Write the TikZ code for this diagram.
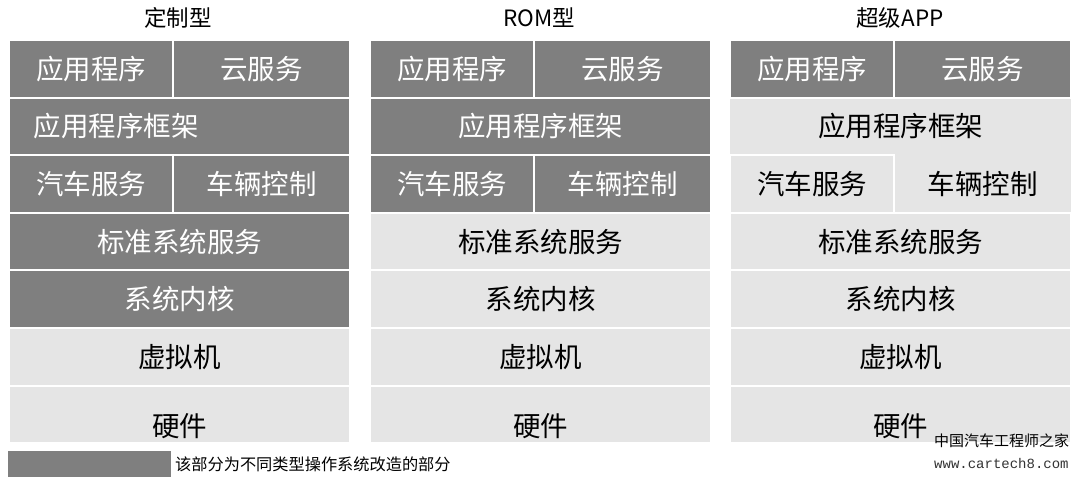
\documentclass[tikz,border=0pt]{standalone}
\usepackage{fontspec}
\setmainfont{Noto Sans CJK SC}
\newfontfamily\wmmono{Liberation Mono}
\usepackage{tikz}
\definecolor{layerdark}{HTML}{7F7F7F}
\definecolor{layerlight}{HTML}{E5E5E5}
\tikzset{
  cell/.style={anchor=north west,minimum height=57.6pt,inner sep=0pt,draw=white,line width=2pt,font=\fontsize{27.5}{30}\selectfont},
  dark/.style={cell,fill=layerdark,text=white},
  light/.style={cell,fill=layerlight,text=black},
  bare/.style={draw=none},
  wide/.style={minimum width=341pt},
  lhalf/.style={minimum width=164pt},
  rhalf/.style={minimum width=177pt},
  title/.style={font=\fontsize{22.5}{25}\selectfont},
}
\begin{document}
\begin{tikzpicture}[x=1pt,y=-1pt]
    \useasboundingbox[fill=white] (0,0) rectangle (1080,478);
    % titles
    \node[title](T1) at (178,18) {定制型};
    \node[title](T2) at (539,18) {ROM型};
    \node[title](T3) at (900,18) {超级APP};
    % customised
    \node[dark,lhalf](c1app) at (8,39) {应用程序};
    \node[dark,rhalf](c1cloud) at (172,39) {云服务};
    \node[dark,wide,align=left,text width=291pt,inner xsep=25pt](c1fw) at (8,96.6) {应用程序框架};
    \node[dark,lhalf](c1car) at (8,154.2) {汽车服务};
    \node[dark,rhalf](c1ctl) at (172,154.2) {车辆控制};
    \node[dark,wide](c1std) at (8,211.8) {标准系统服务};
    \node[dark,wide](c1kern) at (8,269.4) {系统内核};
    \node[light,wide](c1vm) at (8,327) {虚拟机};
    \node[light,wide](c1hw) at (8,384.6) {};
    \node[font=\fontsize{27.5}{30}\selectfont](c1hwt) at ([yshift=-12pt]c1hw.center) {硬件};
    % ROM
    \node[dark,lhalf](c2app) at (369,39) {应用程序};
    \node[dark,rhalf](c2cloud) at (533,39) {云服务};
    \node[dark,wide](c2fw) at (369,96.6) {应用程序框架};
    \node[dark,lhalf](c2car) at (369,154.2) {汽车服务};
    \node[dark,rhalf](c2ctl) at (533,154.2) {车辆控制};
    \node[light,wide](c2std) at (369,211.8) {标准系统服务};
    \node[light,wide](c2kern) at (369,269.4) {系统内核};
    \node[light,wide](c2vm) at (369,327) {虚拟机};
    \node[light,wide](c2hw) at (369,384.6) {};
    \node[font=\fontsize{27.5}{30}\selectfont](c2hwt) at ([yshift=-12pt]c2hw.center) {硬件};
    % super app
    \node[light,bare,wide](c3fw) at (729,96.6) {应用程序框架};
    \node[light,bare,rhalf](c3ctl) at (893,154.2) {车辆控制};
    \node[dark,lhalf](c3app) at (729,39) {应用程序};
    \node[dark,rhalf](c3cloud) at (893,39) {云服务};
    \node[light,lhalf](c3car) at (729,154.2) {汽车服务};
    \node[light,wide](c3std) at (729,211.8) {标准系统服务};
    \node[light,wide](c3kern) at (729,269.4) {系统内核};
    \node[light,wide](c3vm) at (729,327) {虚拟机};
    \node[light,wide](c3hw) at (729,384.6) {};
    \node[font=\fontsize{27.5}{30}\selectfont](c3hwt) at ([yshift=-12pt]c3hw.center) {硬件};
    % legend
    \node[anchor=north west,fill=layerdark,minimum width=163pt,minimum height=26pt,inner sep=0pt](key) at (8,451) {};
    \node[anchor=west,inner sep=0pt,font=\fontsize{16.2}{18}\selectfont](keytext) at (175,464) {该部分为不同类型操作系统改造的部分};
    % watermark
    \node[anchor=west,inner sep=0pt,font=\fontsize{15}{16}\selectfont](wm) at (934,441) {中国汽车工程师之家};
    \node[anchor=west,inner sep=0pt,text=black!80,font=\wmmono\fontsize{14}{15}\selectfont](url) at (934,463) {www.cartech8.com};
\end{tikzpicture}
\end{document}
